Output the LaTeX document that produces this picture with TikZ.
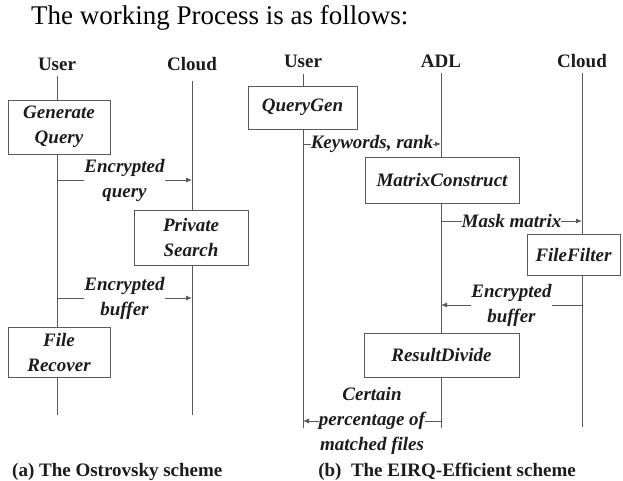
\documentclass[tikz,border=0pt]{standalone}
\usepackage{fontspec}
\setmainfont{Liberation Serif}
\usetikzlibrary{arrows.meta}
\definecolor{linegray}{RGB}{90,90,90}
\definecolor{inkcol}{RGB}{28,28,28}
\begin{document}
\begin{tikzpicture}[x=1pt,y=-1pt,
  life/.style={draw=linegray, line width=0.9pt},
  proc/.style={draw=linegray, line width=0.9pt, fill=white, text=inkcol,
    font=\fontsize{19}{25}\selectfont\bfseries\itshape, align=center, inner sep=0pt},
  msg/.style={draw=linegray, line width=0.9pt, -{Latex[length=6pt,width=5pt]}},
  msgtext/.style={fill=white, inner sep=0pt, text=inkcol,
    font=\fontsize{19}{25}\selectfont\bfseries\itshape, align=center},
  head/.style={text=inkcol, font=\fontsize{19}{23}\selectfont\bfseries, inner sep=0pt},
  capt/.style={text=inkcol, font=\fontsize{19}{23}\selectfont\bfseries, inner sep=0pt}
]
\useasboundingbox[fill=white] (0,0) rectangle (623,481);

% heading line
\node[anchor=base west, inner sep=0pt, text=black, font=\fontsize{27}{30}\selectfont] (title) at (31,25) {The working Process is as follows:};

% ---------------- (a) two-party scheme ----------------
\node[head, anchor=base] (aU) at (57,71) {User};
\node[head, anchor=base] (aC) at (192,71) {Cloud};
\coordinate (aUtop) at (57,76);  \coordinate (aUbot) at (57,415);
\coordinate (aCtop) at (192,81); \coordinate (aCbot) at (192,415);
\draw[life] (aUtop) -- (aUbot);
\draw[life] (aCtop) -- (aCbot);

\node[proc, minimum width=102pt, minimum height=54pt] (gq) at (59,127) {Generate\\Query};
\node[proc, minimum width=114pt, minimum height=55pt] (ps) at (191,237.5) {Private\\Search};
\node[proc, minimum width=102pt, minimum height=50pt] (fr) at (59,352) {File\\Recover};

\coordinate (a1s) at (57,180);  \coordinate (a1e) at (192,180);
\draw[msg] (a1s) -- (a1e) node[msgtext, midway] (a1t) {Encrypted\\query};
\coordinate (a2s) at (57,298);  \coordinate (a2e) at (192,298);
\draw[msg] (a2s) -- (a2e) node[msgtext, midway] (a2t) {Encrypted\\buffer};

\node[capt, anchor=base west] (capA) at (12,476) {(a) The Ostrovsky scheme};

% ---------------- (b) three-party scheme ----------------
\node[head, anchor=base] (bU) at (303,68) {User};
\node[head, anchor=base] (bA) at (441,68) {ADL};
\node[head, anchor=base] (bC) at (582,68) {Cloud};
\coordinate (bUtop) at (303,74); \coordinate (bUbot) at (303,428);
\coordinate (bAtop) at (441,73); \coordinate (bAbot) at (441,428);
\coordinate (bCtop) at (582,73); \coordinate (bCbot) at (582,427);
\draw[life] (bUtop) -- (bUbot);
\draw[life] (bAtop) -- (bAbot);
\draw[life] (bCtop) -- (bCbot);

\node[proc, minimum width=109pt, minimum height=43pt] (qg) at (302.5,107.5) {QueryGen};
\node[proc, minimum width=154pt, minimum height=46pt] (mc) at (442,180) {MatrixConstruct};
\node[proc, minimum width=93pt, minimum height=41pt] (ff) at (573.5,254.5) {FileFilter};
\node[proc, minimum width=155pt, minimum height=44pt] (rd) at (441.5,355) {ResultDivide};

\coordinate (b1s) at (303,144); \coordinate (b1e) at (441,144);
\draw[msg] (b1s) -- (b1e) node[msgtext, midway] (b1t) {Keywords, rank};
\coordinate (b2s) at (441,221); \coordinate (b2e) at (582,221);
\draw[msg] (b2s) -- (b2e) node[msgtext, midway] (b2t) {Mask matrix};
\coordinate (b3s) at (582,305); \coordinate (b3e) at (441,305);
\draw[msg] (b3s) -- (b3e) node[msgtext, midway] (b3t) {Encrypted\\buffer};
\coordinate (b4s) at (441,421); \coordinate (b4e) at (303,421);
\draw[msg] (b4s) -- (b4e) node[msgtext, midway] (b4t) {Certain\\percentage of\\matched files};

\node[capt, anchor=base east] (capB) at (576,476) {(b)\ \ The EIRQ-Efficient scheme};
\end{tikzpicture}
\end{document}
